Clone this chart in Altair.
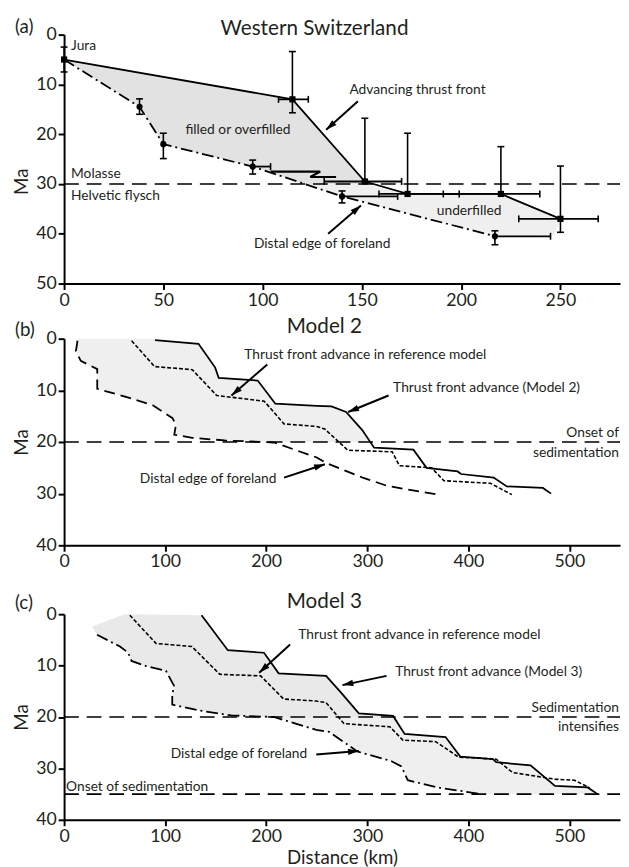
import math
import altair as alt
import pandas as pd

FONT = "Lato"
W = 565

# ================= (a) Western Switzerland =================
a_thrust_km = [0, 115, 151.5, 173, 220, 250]
a_thrust_ma = [5, 13, 29.5, 32, 32, 37]
a_distal_km = [0, 38, 50, 95, 140, 217]
a_distal_ma = [5, 14.5, 22, 26.5, 32.5, 40.5]
a_zig_km = [104, 129, 124, 137]
a_zig_ma = [27.5, 27.5, 28.6, 28.6]
a_vbar_km = [0, 115, 151.5, 173, 220, 250, 38, 50, 95, 140, 217]
a_vbar_top = [2.5, 3.4, 16.8, 19.8, 22.5, 26.4, 12.9, 19.8, 25.2, 31.4, 39.4]
a_vbar_bot = [7.5, 15.7, 29.5, 32, 32, 39.7, 16, 24.9, 28, 33.8, 42.2]
a_hbar_ma = [13, 29.5, 32, 32, 37, 26.5, 32.5, 40.5]
a_hbar_left = [108, 131, 158.6, 191, 229, 95, 140, 217]
a_hbar_right = [123, 170, 199, 239.6, 269, 104, 168, 245]
a_hatch_km = [0, 115, 151.5, 151.5, 121, 95, 50, 38]
a_hatch_ma = [5, 13, 29.5, 30, 30, 26.5, 22, 14.5]
a_stip_km = [121, 151.5, 173, 220, 250, 247, 217, 140]
a_stip_ma = [30, 30, 32, 32, 37, 40.4, 40.5, 32.5]
a_left_text = ["Jura", "Molasse", "Helvetic flysch"]
a_left_km = [3.5, 3.5, 3.5]
a_left_ma = [2.2, 28.0, 32.4]
a_mid_text = ["filled or overfilled", "Advancing thrust front", "underfilled", "Distal edge of foreland"]
a_mid_km = [87.6, 178, 204, 130]
a_mid_ma = [19.2, 11.2, 35.4, 42.0]
a_arrow_tail_km = [148, 133]
a_arrow_tail_ma = [13.4, 40.0]
a_arrow_head_km = [132, 149.5]
a_arrow_head_ma = [19.1, 34.3]
a_hline_ma = [30]
a_xticks = [0, 50, 100, 150, 200, 250]
a_yticks = [0, 10, 20, 30, 40, 50]

# ================= (b) Model 2 =================
b_model_km = [90, 133, 149.5, 153, 191.6, 209, 250, 264.6, 279, 295, 306.7, 345.6, 358.6, 389.4, 392.7, 425, 438, 473.7, 481.8]
b_model_ma = [0.3, 1.0, 5.6, 7.6, 8.1, 12.6, 13, 13.1, 14.2, 17.7, 21.1, 21.5, 25, 25.7, 26.2, 26.9, 28.6, 28.9, 30.0]
b_ref_km = [66.8, 89.5, 126.8, 151, 198, 217.6, 250, 258, 280.8, 324.6, 331.7, 363.5, 375.8, 421.9, 443]
b_ref_ma = [0.4, 5.4, 6.0, 11.0, 12.1, 16.5, 17, 17.5, 21.6, 21.9, 24.6, 25, 27.5, 28, 30.2]
b_distal_km = [13.3, 11.7, 16.5, 32.8, 32.8, 62, 87.8, 107.3, 110.6, 109, 126.8, 159, 207.8, 250, 259.7, 295.4, 319.7, 370]
b_distal_ma = [0.4, 2.4, 4.3, 5.9, 9.7, 11.3, 12.9, 15.4, 16.7, 18.6, 19.2, 19.7, 20.1, 23, 24.1, 26.9, 28.5, 30.2]
b_stip_km = [13.3, 90, 90, 133, 149.5, 153, 191.6, 209, 250, 264.6, 279, 295, 302.9, 207.8, 159, 126.8, 109, 110.6, 107.3, 87.8, 62, 32.8, 32.8, 16.5, 11.7, 13.3]
b_stip_ma = [0, 0, 0.3, 1.0, 5.6, 7.6, 8.1, 12.6, 13, 13.1, 14.2, 17.7, 20, 20, 19.7, 19.2, 18.6, 16.7, 15.4, 12.9, 11.3, 9.7, 5.9, 4.3, 2.4, 0.4]
b_mid_text = ["Thrust front advance in reference model", "Thrust front advance (Model 2)", "Distal edge of foreland"]
b_mid_km = [298, 418, 142.5]
b_mid_ma = [3.2, 9.5, 27.2]
b_right_text = ["Onset of", "sedimentation"]
b_right_km = [549, 549]
b_right_ma = [18.3, 22.1]
b_arrow_tail_km = [201, 321, 217.6]
b_arrow_tail_ma = [5.0, 11.0, 26.9]
b_arrow_head_km = [165.6, 281, 258]
b_arrow_head_ma = [11.0, 14.2, 24.3]
b_hline_ma = [20]

# ================= (c) Model 3 =================
c_model_km = [136, 162, 197.8, 212.3, 249.5, 259.2, 273.8, 291.6, 325.5, 336.9, 377.4, 392, 424.3, 427.5, 461.5, 485.7, 518, 527.9]
c_model_ma = [0.2, 7.0, 7.5, 11.5, 11.9, 12.0, 15.2, 19.3, 19.8, 23.3, 23.9, 27.7, 28.2, 28.8, 29.4, 33.4, 33.7, 35]
c_ref_km = [65, 91, 126.5, 154, 194.5, 217.2, 249.5, 259.2, 277, 322.3, 335.2, 367.7, 390.3, 427.5, 443.7, 485.7, 505, 520]
c_ref_ma = [0.2, 5.7, 6.3, 11.7, 12.0, 16.5, 16.9, 17.2, 21.3, 21.9, 24.5, 24.8, 27.8, 28.2, 30.8, 32.1, 32.3, 33.8]
c_distal_km = [32.6, 55.3, 63.4, 66.7, 81.2, 100.7, 108.7, 107, 107, 133, 165.3, 207.5, 249.5, 262.4, 290, 324, 333.7, 340, 369, 413]
c_distal_ma = [4.0, 6.3, 7.5, 9.1, 10.1, 11.0, 13.9, 15.8, 17.6, 18.7, 19.7, 20, 22.5, 22.9, 26.7, 28.6, 29.6, 32.3, 33.7, 35]
c_hatch_km = [60, 136, 162, 197.8, 212.3, 249.5, 259.2, 273.8, 291.6, 325.5, 327, 207.5, 165.3, 133, 107, 107, 108.7, 100.7, 81.2, 66.7, 63.4, 55.3, 32.6, 27.8]
c_hatch_ma = [0, 0.2, 7.0, 7.5, 11.5, 11.9, 12.0, 15.2, 19.3, 19.8, 20, 20, 19.7, 18.7, 17.6, 15.8, 13.9, 11.0, 10.1, 9.1, 7.5, 6.3, 4.0, 2.4]
c_stip_km = [207.5, 327, 336.9, 377.4, 392, 424.3, 427.5, 461.5, 485.7, 518, 527.9, 413, 369, 340, 333.7, 324, 290, 262.4, 249.5]
c_stip_ma = [20, 20, 23.3, 23.9, 27.7, 28.2, 28.8, 29.4, 33.4, 33.7, 35, 35, 33.7, 32.3, 29.6, 28.6, 26.7, 22.9, 22.5]
c_mid_text = ["Thrust front advance in reference model", "Thrust front advance (Model 3)", "Distal edge of foreland"]
c_mid_km = [351.5, 420, 173]
c_mid_ma = [4.0, 11.2, 27.3]
c_right_text = ["Sedimentation", "intensifies"]
c_right_km = [549, 549]
c_right_ma = [18.2, 22.0]
c_left_text = ["Onset of sedimentation"]
c_left_km = [2]
c_left_ma = [33.7]
c_arrow_tail_km = [223.6, 319, 249.5]
c_arrow_tail_ma = [5.9, 12.0, 27.3]
c_arrow_head_km = [193, 275.4, 291.6]
c_arrow_head_ma = [11.4, 13.8, 26.6]
c_hline_ma = [20, 35]
bc_xticks = [0, 100, 200, 300, 400, 500]
bc_yticks = [0, 10, 20, 30, 40]

HATCH = "#e2e2e2"
STIP = "#efefef"
HATCH_C = "#e9e9e9"


def poly(km, ma):
    return pd.DataFrame({"km": km, "ma": ma, "i": list(range(len(km)))})


def make_panel(xdom, xticks, ydom, yticks, height, xaxis_extra, yaxis_extra, parts, label,
               title, title_dx, title_dy):
    xs = alt.Scale(domain=xdom, nice=False, zero=False)
    ys = alt.Scale(domain=ydom, reverse=True, nice=False)
    xaxis = alt.Axis(values=xticks, labelFlush=False, **xaxis_extra)
    yaxis = alt.Axis(values=yticks, title="Ma", titlePadding=4, **yaxis_extra)
    X = alt.X("km:Q", scale=xs, axis=xaxis)
    Y = alt.Y("ma:Q", scale=ys, axis=yaxis)
    kx = W / (xdom[1] - xdom[0])
    ky = height / (ydom[1] - ydom[0])
    layers = []
    for km, ma, col in parts.get("fills", []):
        layers.append(alt.Chart(poly(km, ma)).mark_line(fill=col, strokeOpacity=0)
                      .encode(x=X, y=Y, order="i:Q"))
    hl = pd.DataFrame({"ma": parts["hlines"], "km": [xdom[0]] * len(parts["hlines"]),
                       "km2": [xdom[1]] * len(parts["hlines"])})
    layers.append(alt.Chart(hl).mark_rule(color="black", strokeWidth=1.6, strokeDash=[15, 8])
                  .encode(x=X, x2="km2:Q", y=Y))
    for km, ma, dash, sw in parts.get("lines", []):
        kw = dict(color="black", strokeWidth=sw)
        if dash:
            kw["strokeDash"] = dash
        layers.append(alt.Chart(poly(km, ma)).mark_line(**kw).encode(x=X, y=Y, order="i:Q"))
    if "vbars" in parts:
        vk, vt, vb = parts["vbars"]
        vd = pd.DataFrame({"km": vk, "ma": vt, "ma2": vb})
        layers.append(alt.Chart(vd).mark_rule(color="black", strokeWidth=1.6)
                      .encode(x=X, y=Y, y2="ma2:Q"))
        caps = pd.DataFrame({"km": vk + vk, "ma": vt + vb})
        layers.append(alt.Chart(caps).mark_point(shape="M-1,0L1,0", size=49, color="black",
                                                 strokeWidth=1.6, filled=False, opacity=1)
                      .encode(x=X, y=Y))
    if "hbars" in parts:
        hm, hlft, hrt = parts["hbars"]
        hd = pd.DataFrame({"ma": hm, "km": hlft, "km2": hrt})
        layers.append(alt.Chart(hd).mark_rule(color="black", strokeWidth=1.8)
                      .encode(x=X, x2="km2:Q", y=Y))
        caps = pd.DataFrame({"km": hlft + hrt, "ma": hm + hm})
        layers.append(alt.Chart(caps).mark_point(shape="M0,-1L0,1", size=49, color="black",
                                                 strokeWidth=1.6, filled=False, opacity=1)
                      .encode(x=X, y=Y))
    for km, ma, shape in parts.get("markers", []):
        layers.append(alt.Chart(poly(km, ma)).mark_point(shape=shape, size=40, color="black",
                                                         filled=True, opacity=1)
                      .encode(x=X, y=Y))
    for texts, km, ma, align, fs in parts.get("texts", []):
        td = pd.DataFrame({"t": texts, "km": km, "ma": ma})
        layers.append(alt.Chart(td).mark_text(align=align, baseline="middle", font=FONT,
                                              fontSize=fs, color="#231f20")
                      .encode(x=X, y=Y, text="t:N"))
    tk, tm, hk, hm2 = parts["arrows"]
    ad = pd.DataFrame({"km": tk, "ma": tm, "km2": hk, "ma2": hm2})
    layers.append(alt.Chart(ad).mark_rule(color="black", strokeWidth=2)
                  .encode(x=X, y=Y, x2="km2:Q", y2="ma2:Q"))
    angs = []
    for a, b, c, d in zip(tk, tm, hk, hm2):
        dxs = (c - a) * kx
        dys = (d - b) * ky
        angs.append(math.degrees(math.atan2(dxs, -dys)) % 360)
    hd2 = pd.DataFrame({"km": hk, "ma": hm2, "ang": angs})
    layers.append(alt.Chart(hd2).mark_point(shape="M0,0L0.65,2.2L-0.65,2.2Z", size=100,
                                            color="black", filled=True, opacity=1)
                  .encode(x=X, y=Y, angle=alt.Angle("ang:Q", scale=None)))
    ld = pd.DataFrame({"t": [label[0]]})
    layers.append(alt.Chart(ld).mark_text(align="left", baseline="middle", font=FONT,
                                          fontSize=19, color="#231f20")
                  .encode(x=alt.value(-50), y=alt.value(label[1]), text="t:N"))
    return alt.layer(*layers).properties(
        width=W, height=height,
        title=alt.TitleParams(title, fontSize=21, font=FONT, fontWeight="normal",
                              color="#231f20", anchor="middle", frame="group",
                              dx=title_dx, dy=title_dy, offset=1))


pa = make_panel(
    [0, 280], a_xticks, [0, 50], a_yticks, 253, dict(title=None), dict(titleY=149),
    dict(
        fills=[(a_hatch_km, a_hatch_ma, HATCH), (a_stip_km, a_stip_ma, STIP)],
        hlines=a_hline_ma,
        lines=[(a_thrust_km, a_thrust_ma, None, 1.8),
               (a_distal_km, a_distal_ma, [12, 4, 2, 4], 1.8),
               (a_zig_km, a_zig_ma, None, 2.2)],
        vbars=(a_vbar_km, a_vbar_top, a_vbar_bot),
        hbars=(a_hbar_ma, a_hbar_left, a_hbar_right),
        markers=[(a_thrust_km, a_thrust_ma, "square"), (a_distal_km[1:], a_distal_ma[1:], "circle")],
        texts=[(a_left_text, a_left_km, a_left_ma, "left", 14),
               (a_mid_text, a_mid_km, a_mid_ma, "center", 14)],
        arrows=(a_arrow_tail_km, a_arrow_tail_ma, a_arrow_head_km, a_arrow_head_ma),
    ),
    ("(a)", -8), "Western Switzerland", -28, 22)

pb = make_panel(
    [0, 550], bc_xticks, [0, 40], bc_yticks, 210,
    dict(title=" ", titleFontSize=4, titlePadding=10), dict(),
    dict(
        fills=[(b_stip_km, b_stip_ma, STIP)],
        hlines=b_hline_ma,
        lines=[(b_model_km, b_model_ma, None, 1.8),
               (b_ref_km, b_ref_ma, [4, 2], 1.6),
               (b_distal_km, b_distal_ma, [11, 6], 1.8)],
        texts=[(b_mid_text, b_mid_km, b_mid_ma, "center", 14),
               (b_right_text, b_right_km, b_right_ma, "right", 14)],
        arrows=(b_arrow_tail_km, b_arrow_tail_ma, b_arrow_head_km, b_arrow_head_ma),
    ),
    ("(b)", -9), "Model 2", -18, 17)

pc = make_panel(
    [0, 550], bc_xticks, [0, 40], bc_yticks, 209,
    dict(title="Distance (km)", titlePadding=3), dict(),
    dict(
        fills=[(c_hatch_km, c_hatch_ma, HATCH_C), (c_stip_km, c_stip_ma, STIP)],
        hlines=c_hline_ma,
        lines=[(c_model_km, c_model_ma, None, 1.8),
               (c_ref_km, c_ref_ma, [4, 2], 1.6),
               (c_distal_km, c_distal_ma, [12, 4, 2, 4], 1.8)],
        texts=[(c_mid_text, c_mid_km, c_mid_ma, "center", 14),
               (c_right_text, c_right_km, c_right_ma, "right", 14),
               (c_left_text, c_left_km, c_left_ma, "left", 14)],
        arrows=(c_arrow_tail_km, c_arrow_tail_ma, c_arrow_head_km, c_arrow_head_ma),
    ),
    ("(c)", -11), "Model 3", -18, 19)

chart = alt.vconcat(pa, pb, pc, spacing=7).properties(
    padding={"left": 5, "top": 3, "right": 0, "bottom": 0}
).configure_view(stroke=None).configure_axis(
    labelFont=FONT, labelFontSize=18, labelColor="#231f20", labelPadding=2,
    titleFont=FONT, titleFontSize=19, titleFontWeight="normal", titleColor="#231f20",
    domainColor="black", domainWidth=2, tickColor="black", tickWidth=2, tickSize=6,
    grid=False,
)

chart.save("out.html", embed_options={"renderer": "svg", "actions": False})
